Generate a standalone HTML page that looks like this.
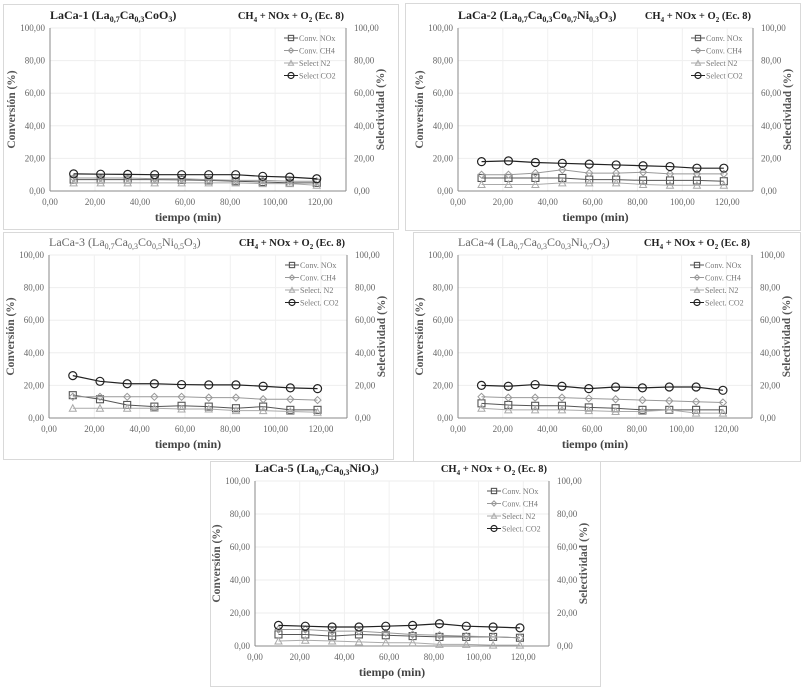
<!DOCTYPE html>
<html><head><meta charset="utf-8"><style>
html,body{margin:0;padding:0;background:#fff;}
body{width:804px;height:688px;position:relative;overflow:hidden;font-family:"Liberation Serif",serif;}
svg{position:absolute;left:0;top:0;font-family:"Liberation Serif",serif;}
</style></head><body>
<svg id="chart" width="804" height="688" font-family="Liberation Serif, serif"></svg>
<script>
const categories=[10.5,22.5,34.5,46.5,58.5,70.5,82.5,94.5,106.5,118.5];
const xTicks=["0,00","20,00","40,00","60,00","80,00","100,00","120,00"];
const yTicks=["0,00","20,00","40,00","60,00","80,00","100,00"];
const seriesNames=["Conv. NOx","Conv. CH4","Select. N2","Select. CO2"];
const p1NOx=[7,7,7,7,6.8,6.5,6,5.5,5,5];
const p1CH4=[8,8,8,7.5,7.5,7,6.5,6.5,6,6];
const p1N2=[5,5,5,5,5,5,5,4.5,4.5,3.5];
const p1CO2=[10.5,10.3,10.2,10,10,10,10,9,8.5,7.5];
const p2NOx=[8,8,8,8,7,7,6.5,6.5,6.5,6];
const p2CH4=[10,10,11,13,11,11,11.5,10.5,10.5,10.5];
const p2N2=[4,4,4,5,5,5,4,3.5,3.5,3.5];
const p2CO2=[18,18.5,17.5,17,16.5,16,15.5,15,14,14];
const p3NOx=[14,11.5,8,7,7.5,7,6,7,5,5];
const p3CH4=[13,13,13,13,13,12.5,12.5,11.5,11.5,11];
const p3N2=[6,6,6,6,5.5,5.5,4.5,4.5,4,3.5];
const p3CO2=[26,22.5,21,21,20.5,20.3,20.3,19.5,18.5,18];
const p4NOx=[9,8,7.5,7.5,6.5,6,5,5,5,5];
const p4CH4=[13,12.5,12.5,12.5,12,11.5,11,10.5,10,9.5];
const p4N2=[6,5,5,5,4.5,4,4,5,3,3];
const p4CO2=[20,19.5,20.5,19.5,18,19,18.5,19,19,17];
const p5NOx=[7,7,6,7,6.5,6,5.5,5.5,5.5,5];
const p5CH4=[10,10,9,9,8,7,6.5,6,5.5,5];
const p5N2=[3,3.5,3,2.5,2,2,1,1,0.5,0.5];
const p5CO2=[12.5,12,11.5,11.5,12,12.5,13.5,12,11.5,11];

const panels=[
 {box:[3,4,395,225],L:50,R:346,B:191,T:28,name:"LaCa-1",sub:[["La","0,7"],["Ca","0,3"],["CoO","3"]],bold:true,data:[p1NOx,p1CH4,p1N2,p1CO2],dot:false},
 {box:[405,3,395,227],L:458,R:753,B:191,T:28,name:"LaCa-2",sub:[["La","0,7"],["Ca","0,3"],["Co","0,7"],["Ni","0,3"],["O","3"]],bold:true,data:[p2NOx,p2CH4,p2N2,p2CO2],dot:false},
 {box:[3,232,390,227],L:49,R:347,B:418,T:255,name:"LaCa-3",sub:[["La","0,7"],["Ca","0,3"],["Co","0,5"],["Ni","0,5"],["O","3"]],bold:false,data:[p3NOx,p3CH4,p3N2,p3CO2],dot:true},
 {box:[413,232,387,229],L:458,R:752,B:418,T:255,name:"LaCa-4",sub:[["La","0,7"],["Ca","0,3"],["Co","0,3"],["Ni","0,7"],["O","3"]],bold:false,data:[p4NOx,p4CH4,p4N2,p4CO2],dot:true},
 {box:[210,461,390,225],L:255,R:549,B:646,T:481,name:"LaCa-5",sub:[["La","0,7"],["Ca","0,3"],["NiO","3"]],bold:true,data:[p5NOx,p5CH4,p5N2,p5CO2],dot:true}
];
const colors=["#555","#999","#aaa","#222"];
const svg=document.getElementById('chart');
const NS="http://www.w3.org/2000/svg";
function mk(tag,attrs,parent){const e=document.createElementNS(NS,tag);for(const k in attrs)e.setAttribute(k,attrs[k]);(parent||svg).appendChild(e);return e;}
function marker(kind,x,y,col,g,s){s=s||1;
 if(kind===0)return mk('rect',{x:x-3.5*s,y:y-3.5*s,width:7*s,height:7*s,fill:'none',stroke:col,'stroke-width':1.1},g);
 if(kind===1)return mk('path',{d:`M${x} ${y-3.5*s}L${x+3.5*s} ${y}L${x} ${y+3.5*s}L${x-3.5*s} ${y}Z`,fill:'none',stroke:col,'stroke-width':1},g);
 if(kind===2)return mk('path',{d:`M${x} ${y-3.5*s}L${x+3.5*s} ${y+3*s}L${x-3.5*s} ${y+3*s}Z`,fill:'none',stroke:col,'stroke-width':1},g);
 return mk('circle',{cx:x,cy:y,r:4*s,fill:'none',stroke:col,'stroke-width':1.2},g);
}
panels.forEach((p,pi)=>{
 const g=mk('g',{});
 
 
 const ppx=(p.R-p.L)/131.5;
 const xS=v=>p.L+v*ppx;
 const yS=v=>p.B-(p.B-p.T)*v/100;
 const b=mk('rect',{x:p.box[0]+.5,y:p.box[1]+.5,width:p.box[2],height:p.box[3],fill:'#fff',stroke:'#d9d9d9'},g);
 
 
 yTicks.forEach((t,i)=>{const v=i*20,y=yS(v);
  if(i>0)mk('line',{x1:p.L,x2:p.R,y1:y,y2:y,stroke:'#eee'},g);
  const tl=mk('text',{x:p.L-5,y:y+3,'text-anchor':'end','font-size':9,fill:'#666'},g);tl.textContent=t;
  
  
  const tr=mk('text',{x:p.R+8,y:y+3,'font-size':9,fill:'#666'},g);tr.textContent=t;
  
  
 });
 xTicks.forEach((t,i)=>{const x=xS(i*20);
  if(i>0)mk('line',{x1:x,x2:x,y1:p.T,y2:p.B,stroke:'#f0f0f0'},g);
  const tx=mk('text',{x:x,y:p.B+14,'text-anchor':'middle','font-size':9,fill:'#666'},g);tx.textContent=t;
  
  
 });
 mk('line',{x1:p.L,x2:p.L,y1:p.T,y2:p.B,stroke:'#888'},g);
 mk('line',{x1:p.R,x2:p.R,y1:p.T,y2:p.B,stroke:'#888'},g);
 mk('line',{x1:p.L,x2:p.R,y1:p.B,y2:p.B,stroke:'#888'},g);
 p.data.forEach((arr,si)=>{
  const s=mk('g',{},g);
  
  
  const pts=arr.map((v,i)=>xS(categories[i])+','+yS(v)).join(' ');
  mk('polyline',{points:pts,fill:'none',stroke:colors[si],'stroke-width':si===3?1.2:1},s);
  arr.forEach((v,i)=>{const m=marker(si,xS(categories[i]),yS(v),colors[si],s);
   
   });
 });
 const lx=p.R-62,ly=p.T+10;
 seriesNames.forEach((n,i)=>{const y=ly+i*12.5;
  const lg=mk('g',{},g);
  
  
  mk('line',{x1:lx,x2:lx+14,y1:y,y2:y,stroke:colors[i]},lg);
  marker(i,lx+7,y,colors[i],lg,0.75);
  const t=mk('text',{x:lx+15,y:y+3,'font-size':8,fill:'#777'},lg);
  t.textContent=p.dot?n:n.replace('Select. ','Select ');
 });
 const tt=mk('text',{x:p.L,y:p.T-9,'font-size':12,'font-weight':p.bold?'bold':'normal',fill:p.bold?'#222':'#666'},g);
 
 
 let h='<tspan>'+p.name+' (</tspan>';
 let pend=0;
 p.sub.forEach(s=>{h+='<tspan dy="'+(-pend)+'">'+s[0]+'</tspan><tspan font-size="8" dy="3">'+s[1]+'</tspan>';pend=3;});
 h+='<tspan dy="-3">)</tspan>';
 tt.innerHTML=h;
 const rt=mk('text',{x:p.R-2,y:p.T-9,'text-anchor':'end','font-size':10.5,'font-weight':'bold',fill:'#222'},g);
 
 
 rt.innerHTML='<tspan>CH</tspan><tspan font-size="7" dy="3">4</tspan><tspan dy="-3"> + NOx + O</tspan><tspan font-size="7" dy="3">2</tspan><tspan dy="-3"> (Ec. 8)</tspan>';
 const cy=(p.T+p.B)/2;
 const yl=mk('text',{x:0,y:0,transform:`translate(${p.L-35} ${cy}) rotate(-90)`,'text-anchor':'middle','font-size':11.5,'font-weight':'bold',fill:'#555'},g);
 yl.textContent='Conversión (%)';
 
 
 const yr=mk('text',{x:0,y:0,transform:`translate(${p.R+38} ${cy}) rotate(-90)`,'text-anchor':'middle','font-size':11.5,'font-weight':'bold',fill:'#555'},g);
 yr.textContent='Selectividad (%)';
 
 
 const xl=mk('text',{x:(p.L+p.R)/2-10,y:p.B+30,'text-anchor':'middle','font-size':12,'font-weight':'bold',fill:'#444'},g);
 xl.textContent='tiempo (min)';
 
 
});
</script>
</body></html>
